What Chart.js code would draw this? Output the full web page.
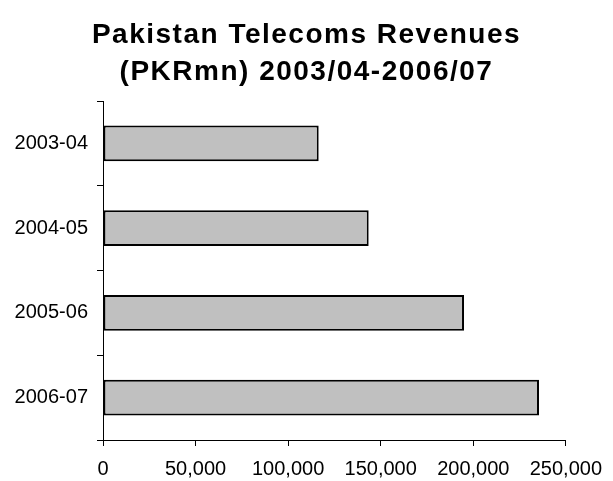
<!DOCTYPE html>
<html>
<head>
<meta charset="utf-8">
<script src="https://cdn.jsdelivr.net/npm/chart.js@4"></script>
<style>
    html, body { margin: 0; padding: 0; background: #ffffff; }
    #wrap { width: 613px; height: 481px; }
</style>
</head>
<body>
<div id="wrap"><canvas id="revChart" width="613" height="481"></canvas></div>
<script>
var years = ['2003-04', '2004-05', '2005-06', '2006-07'];
var revenues = [116500, 143500, 195000, 235500];
var titleLines = ['Pakistan Telecoms Revenues', '(PKRmn) 2003/04-2006/07'];
var xMax = 250000;
var xStep = 50000;

var FONT = 'Liberation Sans, Arial, sans-serif';

// title is drawn by hand so it can get the wide letter spacing of the original
var spacedTitle = {
    id: 'spacedTitle',
    afterDraw: function(chart) {
        var c = chart.ctx;
        c.save();
        c.font = 'bold 28px ' + FONT;
        c.fillStyle = '#000000';
        c.textAlign = 'center';
        c.textBaseline = 'middle';
        c.letterSpacing = '1.5px';
        titleLines.forEach(function(line, i) {
            c.fillText(line, chart.width / 2, 35 + i * 37);
        });
        c.restore();
    }
};

var ctx = document.getElementById('revChart').getContext('2d');
new Chart(ctx, {
    type: 'bar',
    data: {
        labels: years,
        datasets: [{
            label: 'Revenues',
            data: revenues,
            backgroundColor: '#c0c0c0',
            borderColor: '#000000',
            borderWidth: 2,
            borderSkipped: false,
            categoryPercentage: 1,
            barPercentage: 0.42
        }]
    },
    options: {
        indexAxis: 'y',
        responsive: false,
        animation: false,
        layout: {
            padding: { left: 0, right: 47, top: 101, bottom: 0 }
        },
        plugins: {
            legend: { display: false },
            tooltip: { enabled: false },
            title: { display: false }
        },
        scales: {
            x: {
                min: 0,
                max: xMax,
                afterFit: function(scale) { scale.height = 41; },
                ticks: {
                    stepSize: xStep,
                    color: '#000000',
                    padding: 11,
                    maxRotation: 0,
                    font: { family: FONT, size: 20 },
                    callback: function(value) {
                        return value.toLocaleString('en-US');
                    }
                },
                grid: {
                    drawOnChartArea: false,
                    drawTicks: true,
                    tickLength: 6,
                    color: '#000000'
                },
                border: { display: true, color: '#000000', width: 1 }
            },
            y: {
                afterFit: function(scale) { scale.width = 103; },
                ticks: {
                    color: '#000000',
                    padding: 9,
                    font: { family: FONT, size: 20 }
                },
                grid: {
                    drawOnChartArea: false,
                    drawTicks: true,
                    tickLength: 6,
                    color: '#000000'
                },
                border: { display: true, color: '#000000', width: 1 }
            }
        }
    },
    plugins: [spacedTitle]
});
</script>
</body>
</html>
